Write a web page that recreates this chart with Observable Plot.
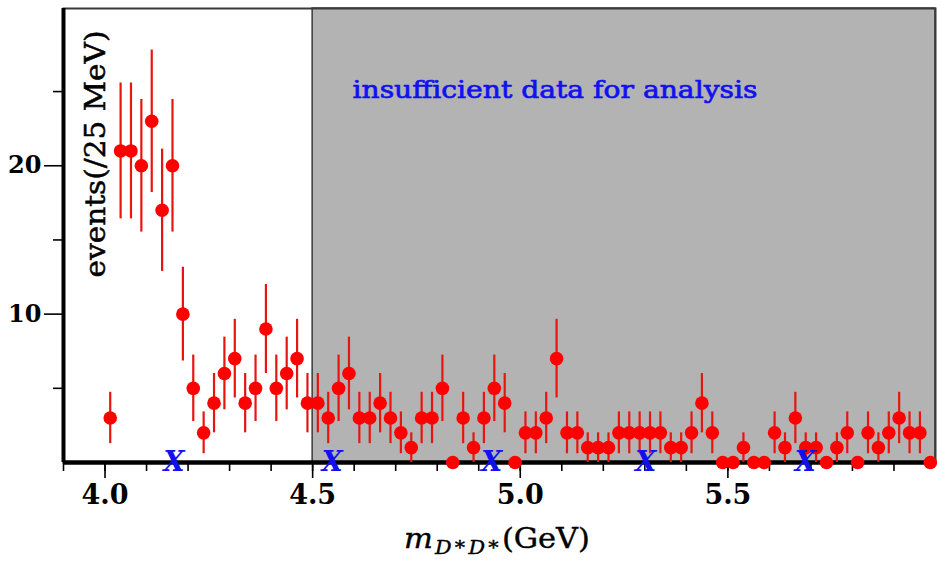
<!DOCTYPE html>
<html><head><meta charset="utf-8">
<script src="https://cdn.jsdelivr.net/npm/d3@7"></script>
<script src="https://cdn.jsdelivr.net/npm/@observablehq/plot@0.6"></script>
<style>
html,body{margin:0;padding:0;background:#fff;}
#chart svg{display:block;}
</style></head><body><div id="chart"></div>
<script>
// bin centres (GeV), 25 MeV bins
const massBins = [4.0125,4.0375,4.0625,4.0875,4.1125,4.1375,4.1625,4.1875,4.2125,4.2375,
  4.2625,4.2875,4.3125,4.3375,4.3625,4.3875,4.4125,4.4375,4.4625,4.4875,
  4.5125,4.5375,4.5625,4.5875,4.6125,4.6375,4.6625,4.6875,4.7125,4.7375,
  4.7625,4.7875,4.8125,4.8375,4.8625,4.8875,4.9125,4.9375,4.9625,4.9875,
  5.0125,5.0375,5.0625,5.0875,5.1125,5.1375,5.1625,5.1875,5.2125,5.2375,
  5.2625,5.2875,5.3125,5.3375,5.3625,5.3875,5.4125,5.4375,5.4625,5.4875,
  5.5125,5.5375,5.5625,5.5875,5.6125,5.6375,5.6625,5.6875,5.7125,5.7375,
  5.7625,5.7875,5.8125,5.8375,5.8625,5.8875,5.9125,5.9375,5.9625,5.9875];
const counts = [3,21,21,20,23,17,20,10,5,2,
  4,6,7,4,5,9,5,6,7,4,
  4,3,5,6,3,3,4,3,2,1,
  3,3,5,0,3,1,3,5,4,0,
  2,2,3,7,2,2,1,1,1,2,
  2,2,2,2,1,1,2,4,2,0,
  0,1,0,0,2,1,3,1,1,0,
  1,2,0,2,1,2,3,2,2,0];
const errors = [1.73,4.58,4.58,4.47,4.8,4.12,4.47,3.16,2.24,1.41,
  2,2.45,2.65,2,2.24,3,2.24,2.45,2.65,2,
  2,1.73,2.24,2.45,1.73,1.73,2,1.73,1.41,1,
  1.73,1.73,2.24,0,1.73,1,1.73,2.24,2,0,
  1.41,1.41,1.73,2.65,1.41,1.41,1,1,1,1.41,
  1.41,1.41,1.41,1.41,1,1,1.41,2,1.41,0,
  0,1,0,0,1.41,1,1.73,1,1,0,
  1,1.41,0,1.41,1,1.41,1.73,1.41,1.41,0];
const xMarkers = [4.166, 4.547, 4.931, 5.302, 5.686];
const xTicks = [4.0, 4.5, 5.0, 5.5];
const xMinorTicks = [3.9,4.0,4.1,4.2,4.3,4.4,4.5,4.6,4.7,4.8,4.9,5.0,5.1,5.2,5.3,5.4,5.5,5.6,5.7,5.8,5.9];
const yTicks = [10, 20];
const yMinorTicks = [5, 15, 25];
const excluded = [{x1: 4.5, x2: 6.0}];
const regionLabel = "insufficient data for analysis";
const yTitle = "events(/25 MeV)";
const xDomain = [3.9, 6.0];
const yDomain = [0, 30.6];

const data = massBins.map((m, i) => ({m, n: counts[i], e: errors[i]}));
const serif = "'DejaVu Serif', serif";

const chart = Plot.plot({
  width: 937, height: 564,
  marginLeft: 63, marginRight: 2, marginTop: 8, marginBottom: 102,
  x: {domain: xDomain, label: null},
  y: {domain: yDomain, label: null},
  style: {fontFamily: serif, background: "white", color: "black"},
  marks: [
    Plot.rect(excluded, {x1: "x1", x2: "x2", y1: yDomain[0], y2: yDomain[1], fill: "#b3b3b3", stroke: "#3a3a3a", strokeWidth: 1.5}),
    Plot.frame({stroke: "#3a3a3a", strokeWidth: 2}),
    Plot.axisX(xMinorTicks, {tickSize: 9, tickFormat: () => "", strokeWidth: 1.6, label: null}),
    Plot.axisX(xTicks, {tickSize: 16, tickPadding: 6, tickFormat: d => d.toFixed(1), fontSize: 27, fontWeight: "bold", strokeWidth: 1.6, label: null}),
    Plot.axisY(yMinorTicks, {tickSize: 10, tickFormat: () => "", strokeWidth: 1.6, label: null}),
    Plot.axisY(yTicks, {tickSize: 19, tickPadding: 3, fontSize: 24, fontWeight: "bold", strokeWidth: 1.6, label: null}),
    Plot.ruleY([0], {stroke: "black", strokeWidth: 4.5}),
    Plot.ruleX([xDomain[0]], {stroke: "black", strokeWidth: 4}),
    Plot.ruleX(data.filter(d => d.n > 0), {x: "m", y1: d => d.n - d.e, y2: d => d.n + d.e, stroke: "#e8150f", strokeWidth: 2.2}),
    Plot.dot(data, {x: "m", y: "n", r: 6.8, fill: "red", stroke: "none"}),
    Plot.text(xMarkers, {x: d => d, y: 0, text: () => "X", fill: "#1010f0", fontSize: 27, fontWeight: "bold", fontStyle: "italic", fontFamily: serif}),
    Plot.text([regionLabel], {x: 4.596, y: 25.09, text: d => d, textAnchor: "start", fill: "#1010f0", stroke: "#1010f0", strokeWidth: 0.7, fontSize: 25, fontFamily: serif}),
    Plot.text([yTitle], {x: 3.978, y: 20.79, text: d => d, rotate: -90, fill: "black", stroke: "black", strokeWidth: 0.5, fontSize: 27, fontFamily: serif})
  ]
});

const svg = d3.select(chart);
svg.selectAll("text").filter(function(){ return this.textContent === regionLabel; })
  .attr("textLength", 405).attr("lengthAdjust", "spacingAndGlyphs");
svg.selectAll("text").filter(function(){ return this.textContent === yTitle; })
  .attr("textLength", 247).attr("lengthAdjust", "spacingAndGlyphs");

// x-axis title with subscript
const xt = svg.append("text")
  .attr("x", 404).attr("y", 548).attr("text-anchor", "start")
  .attr("font-family", serif).attr("font-size", 28).attr("fill", "black")
  .attr("stroke", "black").attr("stroke-width", 0.4);
xt.append("tspan").attr("font-style", "italic").text("m");
xt.append("tspan").attr("font-style", "italic").attr("font-size", 19).attr("dy", 6).attr("dx", 2).attr("letter-spacing", 3).text("D*D*");
xt.append("tspan").attr("dy", -6).attr("dx", 0).text("(GeV)");
xt.attr("textLength", 186).attr("lengthAdjust", "spacingAndGlyphs");

document.getElementById("chart").append(chart);
</script></body></html>
